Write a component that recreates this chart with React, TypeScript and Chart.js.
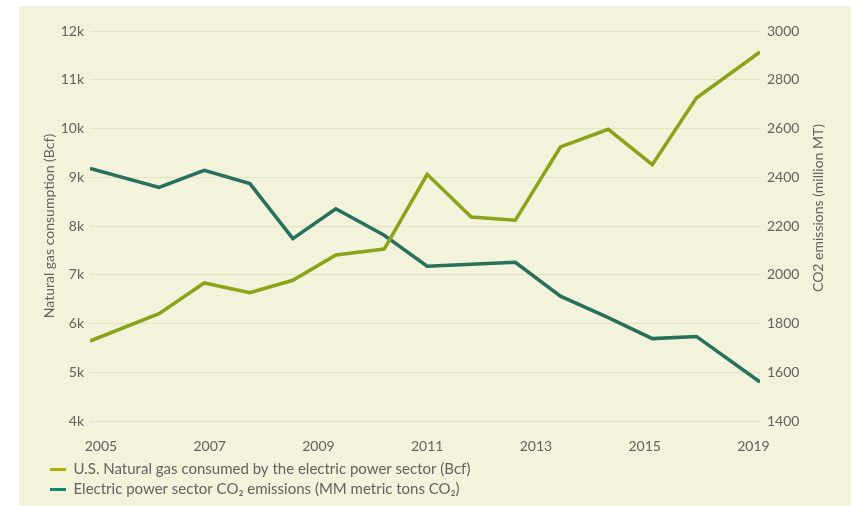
import React, { useEffect, useRef } from 'react';
import { Chart, registerables } from 'chart.js';

Chart.register(...registerables);

// Years of the series (one point per year)
const years = [2005, 2006, 2007, 2008, 2009, 2010, 2011, 2012, 2013, 2014, 2015, 2016, 2017, 2018, 2019];
// Where each yearly point sits on the (decimal-year) time axis
const xPositions = [2004.8, 2006.07, 2006.9, 2007.74, 2008.53, 2009.32, 2010.21, 2011.0, 2011.81, 2012.62, 2013.45, 2014.33, 2015.14, 2015.95, 2017.12];

// U.S. natural gas consumed by the electric power sector (Bcf)
const gasConsumption = [5641, 6203, 6831, 6634, 6886, 7405, 7528, 9060, 8185, 8117, 9621, 9984, 9259, 10626, 11569];
// Electric power sector CO2 emissions (million metric tons)
const co2Emissions = [2436, 2358, 2428, 2374, 2148, 2271, 2162, 2035, 2043, 2051, 1912, 1824, 1738, 1747, 1560];

const xTickValues = [2005, 2007, 2009, 2011, 2013, 2015, 2017];
const xTickLabels = ['2005', '2007', '2009', '2011', '2013', '2015', '2019'];
const leftTicks = [4000, 5000, 6000, 7000, 8000, 9000, 10000, 11000, 12000];
const rightTicks = [1400, 1600, 1800, 2000, 2200, 2400, 2600, 2800, 3000];

const seriesLabels = [
  'U.S. Natural gas consumed by the electric power sector (Bcf)',
  'Electric power sector CO\u2082 emissions (MM metric tons CO\u2082)',
];
const leftTitle = 'Natural gas consumption (Bcf)';
const rightTitle = 'CO2 emissions (million MT)';

const FONT = 'Lato, "Open Sans", sans-serif';
const WEIGHT = '400';
const TEXT = '#626260';
const GAS_COLOR = '#8ba319';
const CO2_COLOR = '#26705d';
const GAS_SWATCH = '#b3ae00';
const CO2_SWATCH = '#0f8a7b';
const GRID = '#e3e3c0';

const rightTitlePlugin = {
  id: 'rightTitle',
  afterDraw(chart: any) {
    const s = chart.scales.y1;
    const area = chart.chartArea;
    const ctx = chart.ctx;
    ctx.save();
    ctx.translate(s.right - 13, (area.top + area.bottom) / 2 - 18);
    ctx.rotate(-Math.PI / 2);
    ctx.font = `${WEIGHT} 14px ${FONT}`;
    ctx.fillStyle = TEXT;
    ctx.textAlign = 'center';
    ctx.textBaseline = 'middle';
    ctx.fillText(rightTitle, 0, 0);
    ctx.restore();
  },
};

export default function App() {
  const ref = useRef<HTMLCanvasElement | null>(null);

  useEffect(() => {
    if (!ref.current) return;
    const chart = new Chart(ref.current, {
      type: 'line',
      data: {
        datasets: [
          {
            label: seriesLabels[0],
            data: years.map((_, i) => ({ x: xPositions[i], y: gasConsumption[i] })),
            borderColor: GAS_COLOR,
            backgroundColor: GAS_SWATCH,
            borderWidth: 3.5,
            pointRadius: 0,
            tension: 0,
            yAxisID: 'y',
          },
          {
            label: seriesLabels[1],
            data: years.map((_, i) => ({ x: xPositions[i], y: co2Emissions[i] })),
            borderColor: CO2_COLOR,
            backgroundColor: CO2_SWATCH,
            borderWidth: 3.5,
            pointRadius: 0,
            tension: 0,
            yAxisID: 'y1',
          },
        ],
      },
      options: {
        responsive: false,
        animation: false,
        layout: { padding: { left: 26, right: 20, top: 25, bottom: 0 } },
        plugins: {
          tooltip: { enabled: false },
          legend: {
            position: 'bottom',
            align: 'start',
            labels: {
              font: { family: FONT, size: 15, weight: WEIGHT },
              color: TEXT,
              boxWidth: 16,
              boxHeight: 3,
              padding: 5,
              // one legend entry per row: trailing (invisible) spaces make the first entry claim the row
              generateLabels: (c: any) =>
                c.data.datasets.map((d: any, i: number) => ({
                  text: i === 0 ? d.label + '\u00a0'.repeat(60) : d.label,
                  fillStyle: d.backgroundColor,
                  strokeStyle: d.backgroundColor,
                  lineWidth: 0,
                  hidden: false,
                  datasetIndex: i,
                  fontColor: TEXT,
                })),
            },
          },
        },
        scales: {
          x: {
            type: 'linear',
            min: xPositions[0],
            max: xPositions[xPositions.length - 1],
            grid: { display: false },
            border: { display: false },
            afterBuildTicks: (s: any) => {
              s.ticks = xTickValues.map((v) => ({ value: v }));
            },
            afterFit: (s: any) => {
              s.height = 36;
            },
            ticks: {
              autoSkip: false,
              maxRotation: 0,
              padding: 9,
              color: TEXT,
              font: { family: FONT, size: 14, weight: WEIGHT },
              callback: (_v: any, i: number) => xTickLabels[i],
            },
          },
          y: {
            type: 'linear',
            position: 'left',
            min: leftTicks[0],
            max: leftTicks[leftTicks.length - 1],
            afterBuildTicks: (s: any) => {
              s.ticks = leftTicks.map((v) => ({ value: v }));
            },
            afterFit: (s: any) => {
              s.width = 45;
            },
            grid: { color: GRID, lineWidth: 1, drawTicks: false },
            border: { display: false },
            title: {
              display: true,
              text: leftTitle,
              color: TEXT,
              font: { family: FONT, size: 14, weight: WEIGHT },
              padding: { top: -4, bottom: 0 },
            },
            ticks: {
              padding: 6,
              color: TEXT,
              font: { family: FONT, size: 14, weight: WEIGHT },
              callback: (v: any) => `${Number(v) / 1000}k`,
            },
          },
          y1: {
            type: 'linear',
            position: 'right',
            min: rightTicks[0],
            max: rightTicks[rightTicks.length - 1],
            afterBuildTicks: (s: any) => {
              s.ticks = rightTicks.map((v) => ({ value: v }));
            },
            afterFit: (s: any) => {
              s.width = 71;
            },
            grid: { display: false, drawTicks: false },
            border: { display: false },
            ticks: {
              padding: 7,
              color: TEXT,
              font: { family: FONT, size: 14, weight: WEIGHT },
              callback: (v: any) => `${v}`,
            },
          },
        },
      },
      plugins: [rightTitlePlugin],
    } as any);
    return () => chart.destroy();
  }, []);

  return (
    <div
      style={{
        position: 'absolute',
        left: 19,
        top: 6,
        width: 832,
        height: 500,
        background: '#f3f2da',
        overflow: 'hidden',
      }}
    >
      <canvas ref={ref} width={832} height={501} style={{ display: 'block' }} />
    </div>
  );
}
